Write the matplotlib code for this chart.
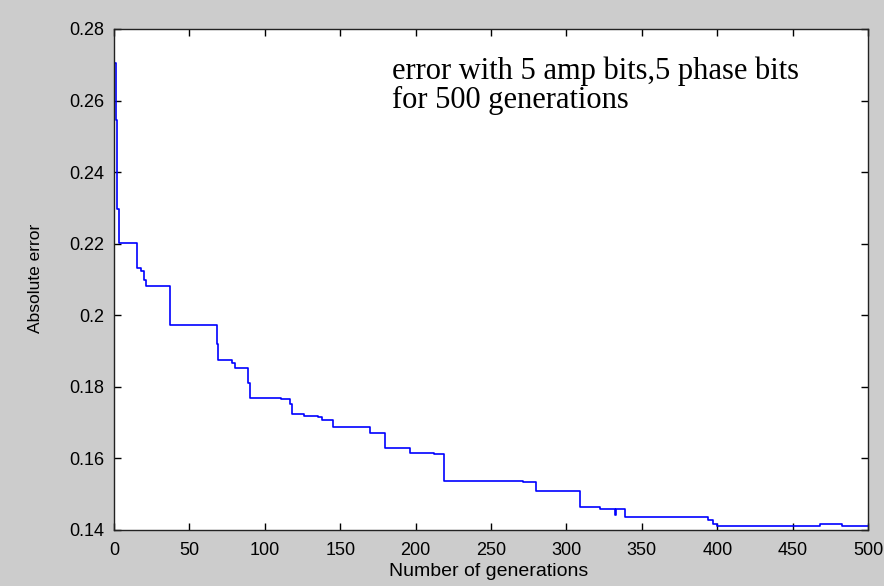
import numpy as np
import matplotlib
matplotlib.use('Agg')
import matplotlib.pyplot as plt

# generation where each new best error starts, and that error
gens = [0, 1, 2, 3, 15, 18, 20, 21, 37, 68, 69, 78, 80, 89, 90, 111, 117, 118,
        126, 135, 138, 145, 170, 180, 196, 212, 219, 271, 280, 309, 322, 332,
        333, 339, 394, 397, 400, 468, 483, 500]
err = [0.2704, 0.2546, 0.2297, 0.2201, 0.2131, 0.2125, 0.2099, 0.2083, 0.1972,
       0.1921, 0.1874, 0.1867, 0.1854, 0.1812, 0.1768, 0.1765, 0.1752, 0.1723,
       0.1719, 0.1715, 0.1707, 0.1689, 0.1670, 0.1628, 0.1616, 0.1612, 0.1538,
       0.1533, 0.1509, 0.1465, 0.1460, 0.1443, 0.1460, 0.1435, 0.1428, 0.1417,
       0.1411, 0.1416, 0.1411, 0.1411]

xticks = np.arange(0, 501, 50)
yticks = [0.14, 0.16, 0.18, 0.2, 0.22, 0.24, 0.26, 0.28]
ylabels = ['0.14', '0.16', '0.18', '0.2', '0.22', '0.24', '0.26', '0.28']

plt.rcParams['font.family'] = ['Liberation Sans', 'DejaVu Sans']

fig = plt.figure(figsize=(8.84, 5.86), dpi=100, facecolor='#cccccc')
ax = fig.add_axes([0.129, 0.0956, 0.853, 0.855])
ax.set_facecolor('white')

ax.step(gens, err, where='post', color='#0000ff', lw=1.2)

ax.set_xlim(0, 500)
ax.set_ylim(0.14, 0.28)
ax.set_xticks(xticks)
ax.set_yticks(yticks)
ax.set_yticklabels(ylabels)
ax.tick_params(direction='in', top=True, right=True, length=5, width=1,
               labelsize=13, colors='black')
ax.tick_params(axis='x', pad=9)
ax.tick_params(axis='y', pad=7)
for s in ax.spines.values():
    s.set_linewidth(1)
    s.set_color('#222222')

ax.set_xlabel('Number of generations', fontsize=14)
ax.set_ylabel('Absolute error', fontsize=12.5)
ax.xaxis.set_label_coords(0.497, -0.066)
ax.yaxis.set_label_coords(-0.094, 0.503)

ax.text(0.369, 0.946, 'error with 5 amp bits,5 phase bits\nfor 500 generations',
        transform=ax.transAxes, family='Liberation Serif', fontsize=22,
        va='top', ha='left', linespacing=1.0)

plt.savefig('out.png', dpi=100, facecolor=fig.get_facecolor())
